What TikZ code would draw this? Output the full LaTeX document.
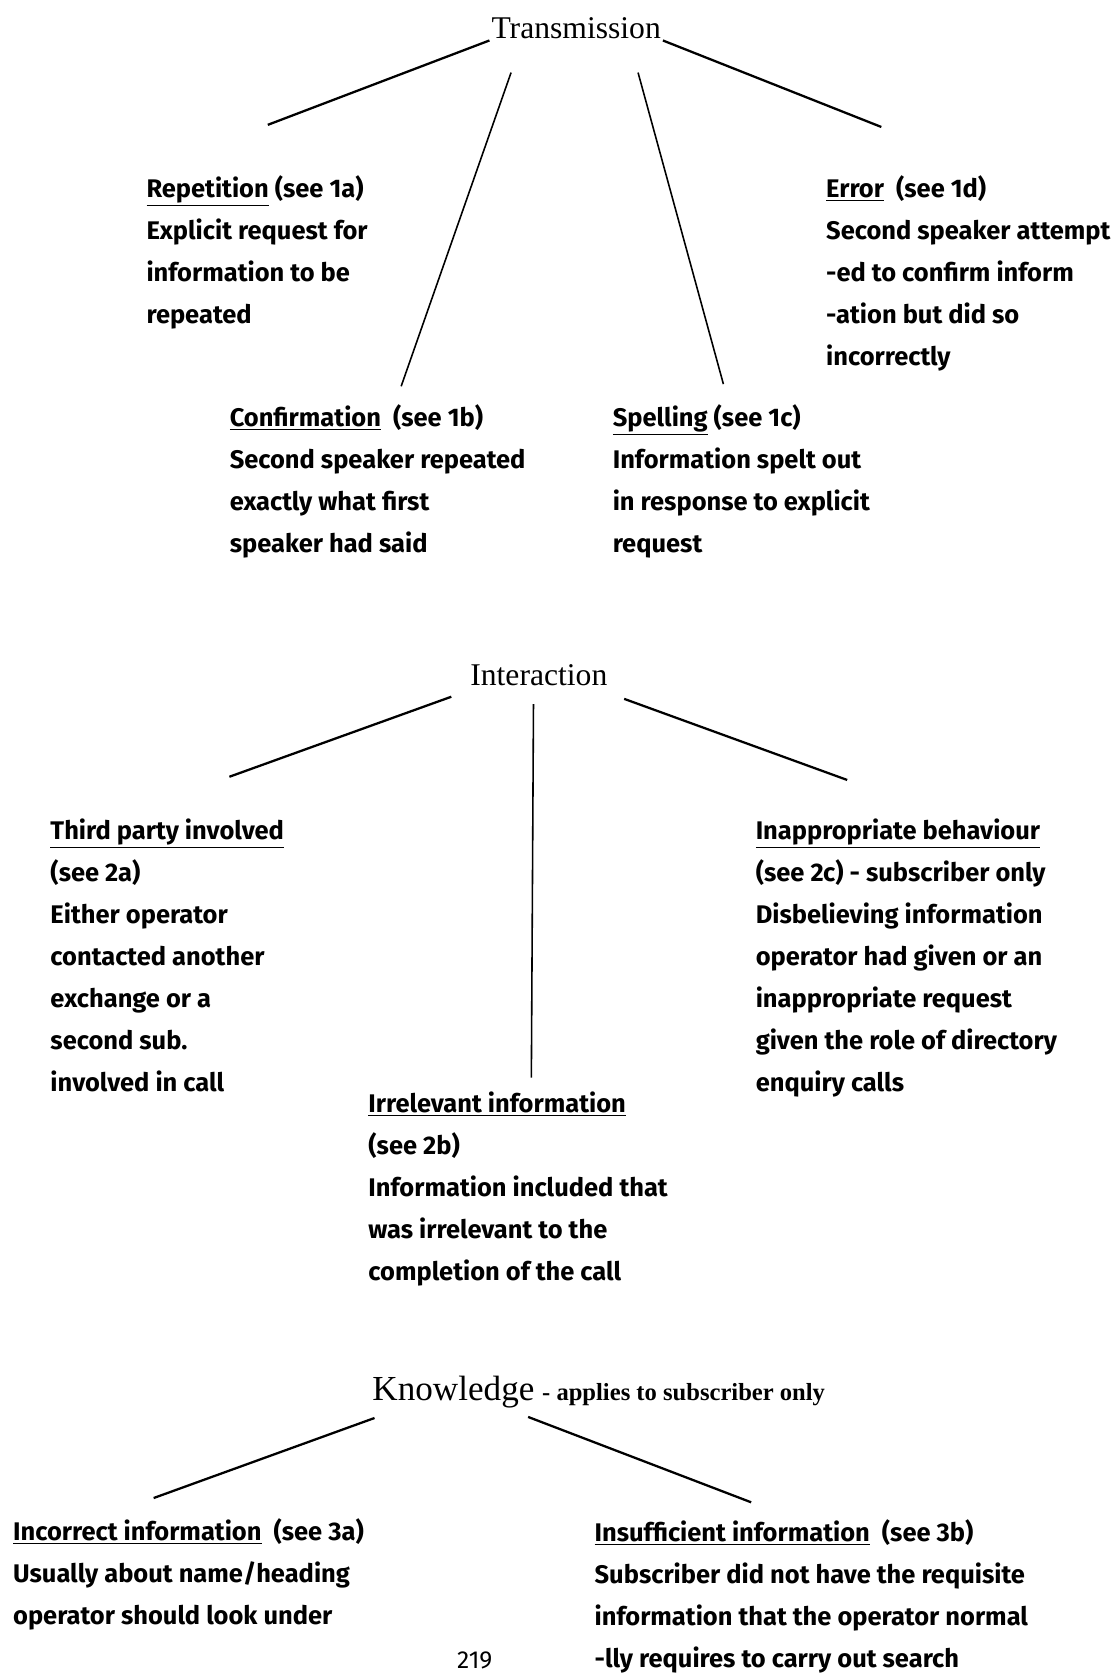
\documentclass[tikz,border=0pt]{standalone}
\usepackage{fontspec}
\setmainfont{Fira Sans}
\newfontfamily\titlefont{Liberation Serif}
\usepackage{tikz}
\usetikzlibrary{positioning}
\newcommand{\hw}[1]{\underline{#1}}

\tikzset{
  heading/.style={font={\titlefont\fontsize{18}{20}\selectfont}, inner sep=1pt},
  notebox/.style={anchor=north west, align=left, inner sep=0pt,
    font={\bfseries\fontsize{14.5}{23.9}\selectfont}},
  branch/.style={line width=1.3pt},
  steep/.style={line width=0.9pt}
}

\begin{document}
\begin{tikzpicture}[x=0.02134cm,y=-0.02134cm]
\useasboundingbox (0,0) rectangle (1044,1568);
% Transmission
\node[heading] (trans) at (540,26) {Transmission};
\node[notebox] (rep) at (137,164) {\hw{Repetition} (see 1a)\\ Explicit request for\\ information to be\\ repeated};
\node[notebox] (err) at (774,164) {\hw{Error}~~(see 1d)\\ Second speaker attempt\\ -ed to confirm inform\\ -ation but did so\\ incorrectly};
\node[notebox] (conf) at (215,379) {\hw{Confirmation}~~(see 1b)\\ Second speaker repeated\\ exactly what first\\ speaker had said};
\node[notebox] (spell) at (574,379) {\hw{Spelling}~(see 1c)\\ Information spelt out\\ in response to explicit\\ request};
\coordinate (rep top) at (251,117);
\coordinate (conf from) at (479,68);
\coordinate (conf top) at (376,362);
\coordinate (spell from) at (598,68);
\coordinate (spell top) at (678,360);
\coordinate (err top) at (826,119);
\draw[branch] (trans.south west) -- (rep top);
\draw[steep] (conf from) -- (conf top);
\draw[steep] (spell from) -- (spell top);
\draw[branch] (trans.south east) -- (err top);
% Interaction
\node[heading] (inter) at (505,633) {Interaction};
\node[notebox] (third) at (47,767) {\hw{Third party involved}\\ (see 2a)\\ Either operator\\ contacted another\\ exchange or a\\ second sub.\\ involved in call};
\node[notebox] (inapp) at (708,767) {\hw{Inappropriate behaviour}\\ (see 2c) - subscriber only\\ Disbelieving information\\ operator had given or an\\ inappropriate request\\ given the role of directory\\ enquiry calls};
\node[notebox] (irrel) at (345,1023) {\hw{Irrelevant information}\\ (see 2b)\\ Information included that\\ was irrelevant to the\\ completion of the call};
\coordinate (third from) at (423,653);
\coordinate (third top) at (215,728);
\coordinate (irrel from) at (500,660);
\coordinate (irrel top) at (498,1010);
\coordinate (inapp from) at (585,655);
\coordinate (inapp top) at (794,731);
\draw[branch] (third from) -- (third top);
\draw[steep] (irrel from) -- (irrel top);
\draw[branch] (inapp from) -- (inapp top);
% Knowledge
\node[heading, font={\titlefont\fontsize{20}{22}\selectfont}] (know) at (425,1305) {Knowledge};
\node[anchor=base west, inner sep=0pt, font={\titlefont\bfseries\fontsize{14}{16}\selectfont}] (only) at ([xshift=3pt]know.base east) {- applies to subscriber only};
\node[notebox] (incor) at (12,1423) {\hw{Incorrect information}~~(see 3a)\\ Usually about name/heading\\ operator should look under};
\node[notebox] (insuf) at (557,1424) {\hw{Insufficient information}~~(see 3b)\\ Subscriber did not have the requisite\\ information that the operator normal\\ -lly requires to carry out search};
\coordinate (incor from) at (351,1329);
\coordinate (incor top) at (144,1404);
\coordinate (insuf from) at (495,1328);
\coordinate (insuf top) at (704,1408);
\draw[branch] (incor from) -- (incor top);
\draw[branch] (insuf from) -- (insuf top);
\node[font={\fontsize{14}{16}\selectfont}] (page) at (445,1556) {219};
\end{tikzpicture}
\end{document}
